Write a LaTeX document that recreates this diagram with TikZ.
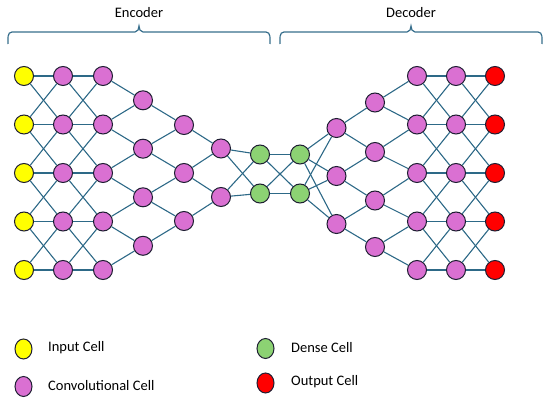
\documentclass[tikz,border=0pt]{standalone}
\usepackage{fontspec}
\setmainfont{Carlito}
\usetikzlibrary{shapes.geometric}
\definecolor{edgec}{RGB}{45,105,135}
\definecolor{bracec}{RGB}{55,110,140}
\definecolor{pinkc}{RGB}{218,112,210}
\definecolor{greenc}{RGB}{140,210,115}
\definecolor{yellowc}{RGB}{255,255,0}
\definecolor{redc}{RGB}{255,0,0}
\definecolor{outl}{RGB}{30,30,50}
\begin{document}
\begin{tikzpicture}[x=1pt,y=-1pt,
  cell/.style={circle,draw=outl,line width=1pt,minimum size=19pt,inner sep=0pt},
  inpcell/.style={cell,fill=yellowc},
  convcell/.style={cell,fill=pinkc},
  densecell/.style={cell,fill=greenc},
  outcell/.style={cell,fill=redc},
  legcell/.style={ellipse,draw=outl,line width=1pt,minimum width=17pt,minimum height=20pt,inner sep=0pt},
  link/.style={draw=edgec,line width=1.1pt},
  brace/.style={draw=bracec,line width=1.2pt},
  lbl/.style={font=\fontsize{14.5}{17}\selectfont,inner sep=0pt},
  leglbl/.style={lbl,anchor=west}]
\useasboundingbox (0,0) rectangle (550,403);
% columns
\foreach \y [count=\i] in {76,124.5,173,221.5,270} {
  \node[inpcell] (c0-\i) at (24,\y) {};
  \node[convcell] (c1-\i) at (63,\y) {};
  \node[convcell] (c2-\i) at (103,\y) {};
  \node[convcell] (c10-\i) at (417,\y) {};
  \node[convcell] (c11-\i) at (456,\y) {};
  \node[outcell] (c12-\i) at (495,\y) {};
}
\foreach \y [count=\i] in {100.3,148.7,197.3,245.8}
  \node[convcell] (c3-\i) at (143,\y) {};
\foreach \y [count=\i] in {125,173,221}
  \node[convcell] (c4-\i) at (184,\y) {};
\foreach \y [count=\i] in {148.5,197}
  \node[convcell] (c5-\i) at (221,\y) {};
\foreach \y [count=\i] in {154.5,193.5} {
  \node[densecell] (c6-\i) at (260,\y) {};
  \node[densecell] (c7-\i) at (300,\y) {};
}
\foreach \y [count=\i] in {128,176,224}
  \node[convcell] (c8-\i) at (336.5,\y) {};
\foreach \y [count=\i] in {102.5,152,200.5,247}
  \node[convcell] (c9-\i) at (375,\y) {};
% connections
\foreach \p/\q in {0/1,1/2,10/11,11/12}
  \foreach \a/\b in {1/1,1/2,2/1,2/2,2/3,3/2,3/3,3/4,4/3,4/4,4/5,5/4,5/5}
    \path[link] (c\p-\a) -- (c\q-\b);
\foreach \a/\b in {1/1,2/1,2/2,3/2,3/3,4/3,4/4,5/4}
  \path[link] (c2-\a) -- (c3-\b);
\foreach \a/\b in {1/1,2/1,2/2,3/2,3/3,4/3}
  \path[link] (c3-\a) -- (c4-\b);
\foreach \a/\b in {1/1,2/1,2/2,3/2}
  \path[link] (c4-\a) -- (c5-\b);
\foreach \a/\b in {1/1,1/2,2/1,2/2} {
  \path[link] (c5-\a) -- (c6-\b);
  \path[link] (c6-\a) -- (c7-\b);
}
\foreach \a/\b in {1/1,1/2,1/3,2/1,2/2,2/3}
  \path[link] (c7-\a) -- (c8-\b);
\foreach \a/\b in {1/1,1/2,2/2,2/3,3/3,3/4}
  \path[link] (c8-\a) -- (c9-\b);
\foreach \a/\b in {1/1,1/2,2/2,2/3,3/3,3/4,4/4,4/5}
  \path[link] (c9-\a) -- (c10-\b);
% braces
\coordinate (encL) at (8,44);
\coordinate (encR) at (270,44);
\coordinate (encT) at (139,26);
\coordinate (decL) at (280,44);
\coordinate (decR) at (542,44);
\coordinate (decT) at (411,26);
\draw[brace] (encL) to[out=90,in=180] (12,32) -- (135,32) to[out=0,in=-90] (encT)
  to[out=-90,in=180] (143,32) -- (266,32) to[out=0,in=90] (encR);
\draw[brace] (decL) to[out=90,in=180] (284,32) -- (407,32) to[out=0,in=-90] (decT)
  to[out=-90,in=180] (415,32) -- (538,32) to[out=0,in=90] (decR);
\node[lbl] (enc) at (139,13) {Encoder};
\node[lbl] (dec) at (411,13) {Decoder};
% legend
\node[legcell,fill=yellowc] (l1) at (23.5,349) {};
\node[legcell,fill=pinkc] (l2) at (23.5,386.5) {};
\node[legcell,fill=greenc] (l3) at (265.5,348.5) {};
\node[legcell,fill=redc] (l4) at (265.5,383) {};
\node[leglbl] (t1) at (48,348) {Input Cell};
\node[leglbl] (t2) at (48,386) {Convolutional Cell};
\node[leglbl] (t3) at (291,348) {Dense Cell};
\node[leglbl] (t4) at (291,382) {Output Cell};
\end{tikzpicture}
\end{document}
